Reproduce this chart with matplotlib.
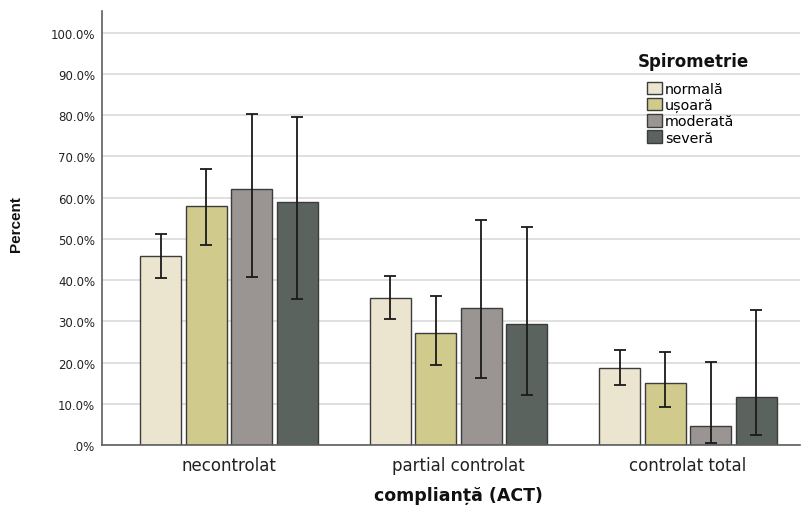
import matplotlib
matplotlib.use('Agg')
import matplotlib.pyplot as plt
import matplotlib.ticker as ticker
import numpy as np

categories = ['necontrolat', 'partial controlat', 'controlat total']
groups = ['normală', 'ușoară', 'moderată', 'severă']
colors = ['#ebe5cf', '#d0ca8c', '#9a9592', '#5a635d']

# percent per group (rows) for each category (columns)
pct = [[45.9, 35.6, 18.6],
       [58.0, 27.1, 15.0],
       [62.0, 33.3, 4.7],
       [58.9, 29.4, 11.7]]
ci_lo = [[40.5, 30.5, 14.6],
         [48.5, 19.4, 9.2],
         [40.8, 16.3, 0.4],
         [35.5, 12.2, 2.4]]
ci_hi = [[51.3, 41.0, 23.1],
         [67.0, 36.1, 22.6],
         [80.2, 54.6, 20.2],
         [79.5, 53.0, 32.7]]

fig = plt.figure(figsize=(8.04, 5.06), dpi=100)
ax = fig.add_axes([102 / 804, 1 - 446 / 506, 698 / 804, 434 / 506])

x = np.arange(len(categories))
step = 0.198
width = 0.178
for i, g in enumerate(groups):
    xs = x + (i - 1.5) * step
    vals = np.array(pct[i])
    err = [vals - np.array(ci_lo[i]), np.array(ci_hi[i]) - vals]
    ax.bar(xs, vals, width, color=colors[i], edgecolor='#3c3c3c', linewidth=1.0,
           label=g, zorder=2)
    ax.errorbar(xs, vals, yerr=err, fmt='none', ecolor='#1a1a1a', elinewidth=1.3,
                capsize=4.3, capthick=1.3, zorder=3)

ax.set_xlim(-0.553, 2.488)
ax.set_ylim(0, 105.3)
ax.set_xticks(x)
ax.set_xticklabels(categories, fontsize=12, color='#222222')
ax.set_yticks(np.arange(0, 101, 10))
ax.yaxis.set_major_formatter(ticker.FuncFormatter(
    lambda v, p: '.0%' if v == 0 else '%.1f%%' % v))
ax.tick_params(axis='y', length=0, pad=5, labelsize=8.5, labelcolor='#222222')
ax.tick_params(axis='x', length=0, pad=8)

ax.grid(axis='y', color='#dadada', linewidth=1.2, zorder=0)
ax.set_axisbelow(True)
for s in ['top', 'right']:
    ax.spines[s].set_visible(False)
for s in ['left', 'bottom']:
    ax.spines[s].set_color('#5e5e5e')
    ax.spines[s].set_linewidth(1.2)

ax.set_xlabel('complianță (ACT)', fontsize=12.5, fontweight='bold', color='#111111')
ax.xaxis.set_label_coords(0.51, -0.094)
ax.set_ylabel('Percent', fontsize=11, fontweight='bold', color='#111111',
              family=['Liberation Sans', 'DejaVu Sans'])
ax.yaxis.set_label_coords(-0.113, 0.512)

ax.legend(loc='upper left', bbox_to_anchor=(637 / 804, 1 - 73 / 506),
          bbox_transform=fig.transFigure, frameon=False,
          fontsize=10.3, handlelength=1.05, handleheight=0.95,
          handletextpad=0.2, labelspacing=0.14, borderpad=0.2)
fig.text(693 / 804, 1 - 62.5 / 506, 'Spirometrie', fontsize=12, fontweight='bold',
         ha='center', va='center', color='#111111')

fig.savefig('out.png', dpi=100)
